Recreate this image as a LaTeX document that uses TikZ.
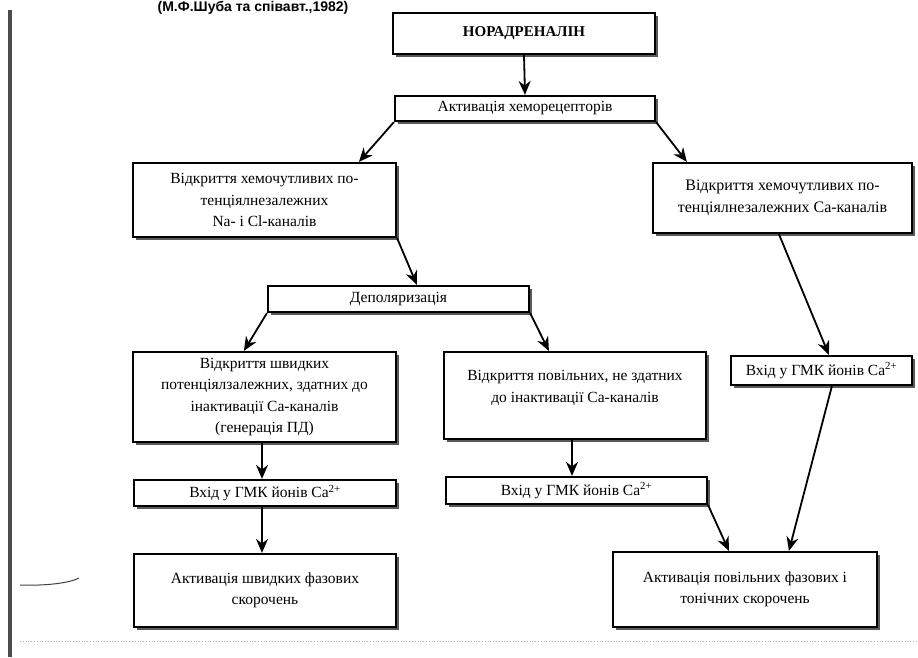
\documentclass[tikz,border=0pt]{standalone}
\usepackage{fontspec}
\setmainfont{Liberation Serif}
\newfontfamily\titlefont{Liberation Sans}
\usetikzlibrary{arrows.meta,shadows}
\tikzset{
  box/.style={draw=black, line width=2.2pt, fill=white, inner sep=2pt,
    align=center, font=\fontsize{15.5}{21.5}\selectfont,
    drop shadow={shadow xshift=3.4pt, shadow yshift=-3.4pt, fill=black!65, opacity=1}},
  arr/.style={line width=1.8pt, -{Stealth[length=14pt,width=12pt]}}
}
\begin{document}
\begin{tikzpicture}[x=1pt,y=-1pt]
\useasboundingbox (0,0) rectangle (918,657);
% title
\node[anchor=base, font=\titlefont\bfseries\fontsize{14}{16}\selectfont, inner sep=0] (title) at (253,11.5) {(М.Ф.Шуба та співавт.,1982)};
% left margin bar and scan marks
\draw[line width=3.5pt, black!70] (10,10) coordinate (bart) -- (10,657) coordinate (barb);
\draw[gray!60, dotted, line width=0.8pt] (20,641) coordinate (dl) -- (918,641) coordinate (dr);
\draw[black!75, line width=1pt] (20,585) coordinate (m1) .. controls (45,586) and (70,583) .. (79,578) coordinate (m2);
% boxes
\node[box, minimum width=262pt, minimum height=41pt, font=\bfseries\fontsize{15}{21}\selectfont] (n1) at (524,33.5) {НОРАДРЕНАЛІН};
\node[box, minimum width=260pt, minimum height=25pt] (n2) at (525,108.5) {Активація хеморецепторів};
\node[box, minimum width=263pt, minimum height=74pt] (n3) at (264.5,200) {Відкриття хемочутливих по-\\тенціялнезалежних\\Na- і Cl-каналів};
\node[box, minimum width=259pt, minimum height=70pt, font=\fontsize{16}{22}\selectfont] (n4) at (782.5,198) {Відкриття хемочутливих по-\\тенціялнезалежних Ca-каналів};
\node[box, minimum width=261pt, minimum height=26pt] (n5) at (398.5,299) {Деполяризація};
\node[box, minimum width=263pt, minimum height=90pt] (n6) at (264.5,397) {Відкриття швидких\\потенціялзалежних, здатних до\\інактивації Ca-каналів\\(генерація ПД)};
\node[box, minimum width=262pt, minimum height=87pt] (n7) at (575,395.5) {Відкриття повільних, не здатних\\до інактивації Ca-каналів\\[-3pt]~};
\node[box, minimum width=181pt, minimum height=29pt] (n8) at (821.5,370.5) {Вхід у ГМК йонів Ca\textsuperscript{2+}};
\node[box, minimum width=262pt, minimum height=26pt] (n9) at (265,493) {Вхід у ГМК йонів Ca\textsuperscript{2+}};
\node[box, minimum width=261pt, minimum height=27pt] (n10) at (576.5,490.5) {Вхід у ГМК йонів Ca\textsuperscript{2+}};
\node[box, minimum width=262pt, minimum height=73pt] (n11) at (265,590.5) {Активація швидких фазових\\скорочень};
\node[box, minimum width=264pt, minimum height=75pt] (n12) at (745,589.5) {Активація повільних фазових і\\тонічних скорочень};
% arrows
\draw[arr] (n1.south) -- (n2.north);
\draw[arr] (n2.south west) -- ([xshift=227pt]n3.north west);
\draw[arr] (n2.south east) -- ([xshift=35pt]n4.north west);
\draw[arr] (n3.south east) -- ([xshift=150pt]n5.north west);
\draw[arr] ([xshift=127pt]n4.south west) -- ([xshift=99pt]n8.north west);
\draw[arr] (n5.south west) -- ([xshift=112pt]n6.north west);
\draw[arr] (n5.south east) -- ([xshift=106pt]n7.north west);
\draw[arr] ([xshift=-2.5pt]n6.south) -- ([xshift=-3pt]n9.north);
\draw[arr] ([xshift=-3pt]n9.south) -- ([xshift=-3pt]n11.north);
\draw[arr] ([xshift=-3pt]n7.south) -- ([xshift=-4.5pt]n10.north);
\draw[arr] (n10.south east) -- ([xshift=117pt]n12.north west);
\draw[arr] ([xshift=102pt]n8.south west) -- ([xshift=177pt]n12.north west);
\end{tikzpicture}
\end{document}
